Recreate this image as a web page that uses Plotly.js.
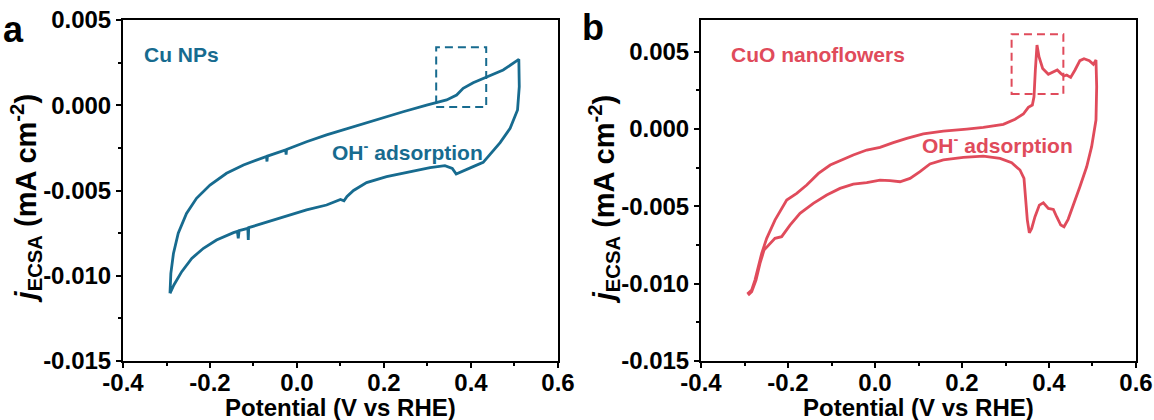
<!DOCTYPE html>
<html><head><meta charset="utf-8">
<script src="https://cdn.plot.ly/plotly-3.0.1.min.js"></script>
<style>html,body{margin:0;padding:0;background:#fff}#chart{width:1154px;height:420px}</style>
</head><body><div id="chart"></div>
<script>
// Panel a: Cu NPs cyclic voltammogram (anodic sweep, then cathodic sweep)
const cuX = [-0.292,-0.290,-0.284,-0.273,-0.254,-0.231,-0.200,-0.162,-0.123,-0.077,-0.070,-0.069,-0.068,-0.026,-0.025,-0.024,0.022,0.068,0.130,0.191,0.244,0.298,0.344,0.367,0.382,0.405,0.436,0.474,0.510,
  0.511,0.507,0.490,0.467,0.444,0.428,0.405,0.382,0.366,0.357,0.340,0.306,0.260,0.206,0.160,0.130,0.115,0.108,0.100,0.068,0.022,-0.024,-0.070,-0.108,-0.111,-0.112,-0.113,-0.133,-0.135,-0.137,-0.146,-0.185,-0.215,-0.242,-0.265,-0.283,-0.292];
const cuY = [-0.01103,-0.00986,-0.00869,-0.00751,-0.00634,-0.00546,-0.00468,-0.00399,-0.00350,-0.00305,-0.00300,-0.00330,-0.00298,-0.00262,-0.00290,-0.00259,-0.00214,-0.00174,-0.00126,-0.00077,-0.00038,0.00001,0.00031,0.00060,0.00099,0.00132,0.00164,0.00207,0.00269,
  0.00109,-0.00028,-0.00135,-0.00219,-0.00286,-0.00335,-0.00360,-0.00384,-0.00403,-0.00370,-0.00354,-0.00366,-0.00390,-0.00419,-0.00454,-0.00500,-0.00535,-0.00560,-0.00553,-0.00585,-0.00614,-0.00650,-0.00683,-0.00712,-0.00718,-0.00790,-0.00722,-0.00735,-0.00780,-0.00740,-0.00747,-0.00790,-0.00839,-0.00898,-0.00976,-0.01054,-0.01103];

// Panel b: CuO nanoflowers cyclic voltammogram
const cuoX = [-0.2935,-0.2835,-0.276,-0.268,-0.2605,-0.249,-0.230,-0.203,-0.180,-0.157,-0.130,-0.103,-0.073,-0.050,-0.019,0.0115,0.042,0.073,0.111,0.157,0.211,0.249,0.295,0.322,0.341,0.3525,0.3617,0.3655,0.3686,0.3724,0.377,0.3854,0.3985,0.410,0.419,0.427,0.4345,0.4406,0.4498,0.4598,0.471,0.4805,0.4927,0.502,0.508,
  0.5096,0.508,0.498,0.4866,0.471,0.456,0.444,0.4345,0.427,0.4176,0.410,0.3985,0.387,0.3778,0.3678,0.3602,0.3548,0.3502,0.3448,0.3425,0.3333,0.3142,0.2874,0.249,0.203,0.157,0.1264,0.1034,0.0805,0.0575,0.0345,0.0115,-0.019,-0.050,-0.0805,-0.111,-0.1418,-0.1724,-0.1954,-0.2146,-0.230,-0.2414,-0.2552,-0.2644,-0.2736,-0.2835,-0.292];
const cuoY = [-0.01067,-0.01041,-0.00977,-0.00890,-0.00804,-0.00707,-0.00589,-0.00459,-0.00416,-0.00362,-0.00287,-0.00233,-0.00196,-0.00168,-0.00136,-0.00119,-0.00088,-0.00060,-0.00032,-0.00013,0.00000,0.00011,0.00030,0.00063,0.00097,0.00140,0.00155,0.00209,0.00382,0.00543,0.00468,0.00392,0.00354,0.00371,0.00382,0.00360,0.00343,0.00349,0.00334,0.00382,0.00442,0.00455,0.00442,0.00418,0.00446,
  0.00274,0.00058,-0.00114,-0.00244,-0.00373,-0.00492,-0.00584,-0.00632,-0.00621,-0.00567,-0.00520,-0.00513,-0.00477,-0.00492,-0.00567,-0.00643,-0.00671,-0.00589,-0.00416,-0.00319,-0.00265,-0.00218,-0.00190,-0.00175,-0.00183,-0.00200,-0.00226,-0.00276,-0.00319,-0.00341,-0.00334,-0.00330,-0.00347,-0.00356,-0.00384,-0.00427,-0.00481,-0.00545,-0.00621,-0.00696,-0.00707,-0.00740,-0.00783,-0.00869,-0.00977,-0.01052,-0.01074];

const xTickVals = [-0.4,-0.2,0,0.2,0.4,0.6];
const xTickText = ["-0.4","-0.2","0.0","0.2","0.4","0.6"];
const yTickVals = [-0.015,-0.010,-0.005,0,0.005];
const yTickText = ["-0.015","-0.010","-0.005","0.000","0.005"];
const xTitle = "Potential (V vs RHE)";
const yTitle = "<i>j</i><sub>ECSA</sub> (mA cm<sup>-2</sup>)";

const BLUE = "#176B8F";
const RED = "#E04B5B";
const FONT = "Liberation Sans, Arial, sans-serif";

const traces = [
  {x: cuX, y: cuY, xaxis: "x", yaxis: "y", mode: "lines", line: {color: BLUE, width: 2.8}, hoverinfo: "skip"},
  {x: cuoX, y: cuoY, xaxis: "x2", yaxis: "y2", mode: "lines", line: {color: RED, width: 2.8}, hoverinfo: "skip"}
];

function xAxis(domain, anchor) {
  return {
    domain: domain, anchor: anchor, range: [-0.4, 0.6],
    tickmode: "array", tickvals: xTickVals, ticktext: xTickText,
    ticks: "outside", ticklen: 5, tickwidth: 2, tickcolor: "#000",
    ticklabelstandoff: -6,
    minor: {tickmode: "array", tickvals: [-0.3,-0.1,0.1,0.3,0.5], ticks: "outside", ticklen: 3, tickwidth: 2, tickcolor: "#000"},
    showline: true, linewidth: 2, linecolor: "#000", mirror: true,
    showgrid: false, zeroline: false,
    tickfont: {family: FONT, size: 24, color: "#000", weight: "bold"}
  };
}
function yAxis(range, anchor) {
  return {
    anchor: anchor, range: range, domain: [0, 1],
    tickmode: "array", tickvals: yTickVals, ticktext: yTickText,
    ticks: "outside", ticklen: 5, tickwidth: 2, tickcolor: "#000",
    minor: {tickmode: "array", tickvals: [-0.0125,-0.0075,-0.0025,0.0025], ticks: "outside", ticklen: 3, tickwidth: 2, tickcolor: "#000"},
    showline: true, linewidth: 2, linecolor: "#000", mirror: true,
    showgrid: false, zeroline: false,
    tickfont: {family: FONT, size: 24, color: "#000", weight: "bold"}
  };
}

const titleFont = {family: FONT, size: 24, color: "#000", weight: "bold"};
const yTitleFont = {family: FONT, size: 29, color: "#000", weight: "bold"};

const layout = {
  width: 1154, height: 420,
  margin: {l: 123, r: 18, t: 20, b: 59},
  paper_bgcolor: "#fff", plot_bgcolor: "#fff",
  showlegend: false,
  font: {family: FONT, weight: "bold"},
  xaxis: xAxis([0, 0.4294], "y"),
  yaxis: yAxis([-0.015, 0.005], "x"),
  xaxis2: xAxis([0.5706, 1], "y2"),
  yaxis2: yAxis([-0.015, 0.00705], "x2"),
  shapes: [
    {type: "rect", xref: "x", yref: "y", x0: 0.32, x1: 0.435, y0: -0.0001, y1: 0.0034, line: {color: BLUE, width: 2, dash: "8px,5px"}},
    {type: "rect", xref: "x2", yref: "y2", x0: 0.314, x1: 0.433, y0: 0.00226, y1: 0.00613, line: {color: RED, width: 2, dash: "8px,5px"}}
  ],
  annotations: [
    {text: xTitle, xref: "paper", yref: "paper", x: 0.2147, y: -0.1349, xanchor: "center", yanchor: "middle", height: 26, showarrow: false, font: titleFont},
    {text: xTitle, xref: "paper", yref: "paper", x: 0.7853, y: -0.1349, xanchor: "center", yanchor: "middle", height: 26, showarrow: false, font: titleFont},
    {text: yTitle, xref: "paper", yref: "paper", x: -0.0957, y: 0.474, xanchor: "center", yanchor: "middle", textangle: -90, showarrow: false, font: yTitleFont},
    {text: yTitle, xref: "paper", yref: "paper", x: 0.4748, y: 0.474, xanchor: "center", yanchor: "middle", textangle: -90, showarrow: false, font: yTitleFont},
    {text: "Cu NPs", xref: "x", yref: "y", x: -0.357, y: 0.0030, xanchor: "left", yanchor: "middle", showarrow: false, font: {family: FONT, size: 21, color: BLUE, weight: "bold"}},
    {text: "OH<sup>-</sup> adsorption", xref: "x", yref: "y", x: 0.0765, y: -0.0027, xanchor: "left", yanchor: "middle", showarrow: false, font: {family: FONT, size: 21, color: BLUE, weight: "bold"}},
    {text: "CuO nanoflowers", xref: "x2", yref: "y2", x: -0.335, y: 0.00483, xanchor: "left", yanchor: "middle", showarrow: false, font: {family: FONT, size: 21, color: RED, weight: "bold"}},
    {text: "OH<sup>-</sup> adsorption", xref: "x2", yref: "y2", x: 0.1034, y: -0.00095, xanchor: "left", yanchor: "middle", showarrow: false, font: {family: FONT, size: 21, color: RED, weight: "bold"}},
    {text: "a", xref: "paper", yref: "paper", x: -0.1085, y: 0.972, xanchor: "center", yanchor: "middle", showarrow: false, font: {family: FONT, size: 36, color: "#000", weight: "bold"}},
    {text: "b", xref: "paper", yref: "paper", x: 0.4637, y: 0.978, xanchor: "center", yanchor: "middle", showarrow: false, font: {family: FONT, size: 36, color: "#000", weight: "bold"}}
  ]
};

Plotly.newPlot("chart", traces, layout, {staticPlot: true, displayModeBar: false});
</script>
</body></html>
